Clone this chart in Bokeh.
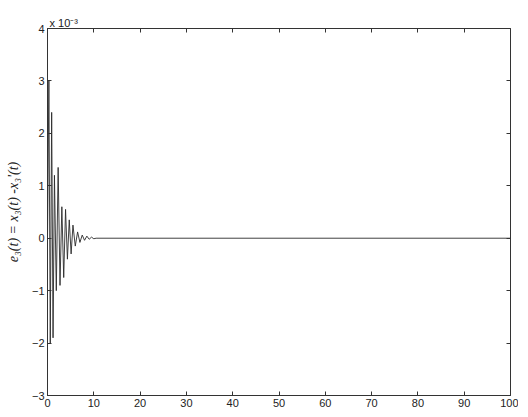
from bokeh.plotting import figure
from bokeh.models import Range1d, FixedTicker, LinearAxis, Title, CustomJSTickFormatter
from bokeh.embed import file_html
from bokeh.resources import INLINE

# time (s) and error e3 in units of 1e-3
t = [0, 0.3, 0.6, 0.9, 1.2, 1.5, 1.9, 2.3, 2.7, 3.1, 3.5, 3.9, 4.3, 4.7, 5.1,
     5.5, 6.0, 6.5, 7.0, 7.5, 8.0, 8.5, 9.0, 9.5, 10.0, 10.5, 100]
e3 = [0, 3.0, -2.0, 2.4, -1.9, 1.2, -1.0, 1.35, -0.9, 0.6, -0.75, 0.55, -0.4,
      0.35, -0.3, 0.25, -0.15, 0.12, -0.08, 0.06, -0.04, 0.04, -0.02, 0.02,
      -0.01, 0, 0]
x_ticks = list(range(0, 101, 10))
y_ticks = list(range(-3, 5))

p = figure(width=518, height=409, output_backend="svg", toolbar_location=None,
           x_range=Range1d(0, 100), y_range=Range1d(-3, 4),
           min_border_left=47, min_border_right=8, min_border_top=28,
           min_border_bottom=14)
p.background_fill_color = "white"
p.border_fill_color = "white"
p.outline_line_color = "#333333"
p.xgrid.visible = False
p.ygrid.visible = False

p.line(t, e3, line_color="#2a2a2a", line_width=0.9)

for ax in (p.xaxis[0], p.yaxis[0]):
    ax.major_tick_in = 4
    ax.major_tick_out = 0
    ax.minor_tick_line_color = None
    ax.axis_line_color = "#333333"
    ax.major_tick_line_color = "#333333"
    ax.major_label_text_font = "Liberation Sans"
    ax.major_label_text_font_size = "11px"
    ax.major_label_text_color = "#222222"
    ax.major_label_standoff = 3
p.xaxis.ticker = FixedTicker(ticks=x_ticks)
p.yaxis.ticker = FixedTicker(ticks=y_ticks)

p.yaxis.axis_label = "e\u2083(t) = x\u2083(t) -x\u2083'(t)"
p.yaxis.axis_label_text_font = "Liberation Serif"
p.yaxis.axis_label_text_font_style = "italic"
p.yaxis.axis_label_text_font_size = "14px"
p.yaxis.axis_label_text_color = "#222222"
p.yaxis.axis_label_standoff = 8

for loc, tk in (("right", y_ticks), ("above", x_ticks)):
    ax = LinearAxis(ticker=FixedTicker(ticks=tk),
                    formatter=CustomJSTickFormatter(code="return ''"))
    ax.major_tick_in = 4
    ax.major_tick_out = 0
    ax.minor_tick_line_color = None
    ax.axis_line_color = None
    ax.major_tick_line_color = "#333333"
    ax.major_label_standoff = 0
    p.add_layout(ax, loc)

p.add_layout(Title(text="x 10\u207b\u00b3", align="left", offset=2,
                   text_font="Liberation Sans", text_font_size="11px",
                   text_font_style="normal", text_color="#222222",
                   standoff=0), "above")

open("out.html", "w").write(file_html(p, INLINE))
